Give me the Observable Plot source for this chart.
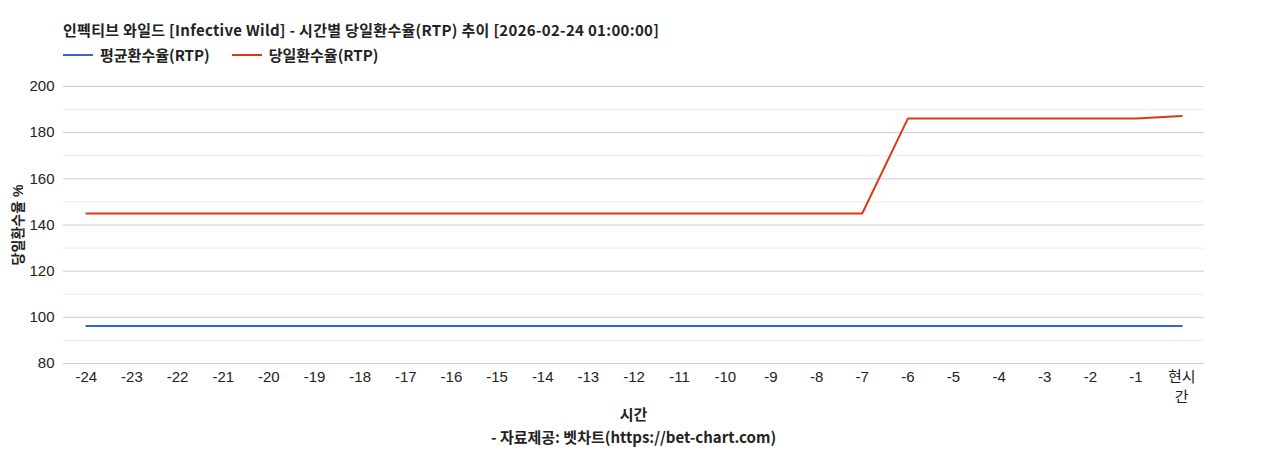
<!DOCTYPE html>
<html>
<head>
<meta charset="utf-8">
<script src="https://cdn.jsdelivr.net/npm/d3@7"></script>
<script src="https://cdn.jsdelivr.net/npm/@observablehq/plot@0.6"></script>
<style>
  body { margin: 0; background: #fff; font-family: "Liberation Sans", Arial, "Noto Sans CJK KR", sans-serif; }
  #wrap { position: relative; width: 1268px; height: 450px; }
  .hdr { font-family: "Noto Sans CJK KR", "Noto Sans", sans-serif; font-weight: bold; font-size: 15px; color: #222; white-space: nowrap; }
  .title { position: absolute; left: 63px; top: 19px; letter-spacing: 0.3px; }
  .legend { position: absolute; left: 63px; top: 44px; display: flex; align-items: center; }
  .legend .sw { display: inline-block; width: 30px; height: 2px; margin-right: 7px; }
  .legend .item { display: flex; align-items: center; margin-right: 22px; }
  #chart { position: absolute; left: 0; top: 70px; }
  .xlabel { position: absolute; left: 63px; width: 1141px; top: 403px; text-align: center; }
  .caption { position: absolute; left: 63px; width: 1141px; top: 426px; text-align: center; }
</style>
</head>
<body>
<div id="wrap">
  <div class="title hdr">인펙티브 와일드 [Infective Wild] - 시간별 당일환수율(RTP) 추이 [2026-02-24 01:00:00]</div>
  <div class="legend hdr" id="legend"></div>
  <div id="chart"></div>
  <div class="xlabel hdr">시간</div>
  <div class="caption hdr">- 자료제공: 벳차트(https://bet-chart.com)</div>
</div>
<script>
const hours = ["-24","-23","-22","-21","-20","-19","-18","-17","-16","-15","-14","-13","-12","-11","-10","-9","-8","-7","-6","-5","-4","-3","-2","-1","현시간"];
const avgRTP = [96.2,96.2,96.2,96.2,96.2,96.2,96.2,96.2,96.2,96.2,96.2,96.2,96.2,96.2,96.2,96.2,96.2,96.2,96.2,96.2,96.2,96.2,96.2,96.2,96.2];
const dailyRTP = [145,145,145,145,145,145,145,145,145,145,145,145,145,145,145,145,145,145,186.1,186.1,186.1,186.1,186.1,186.1,187.2];
const seriesNames = ["평균환수율(RTP)", "당일환수율(RTP)"];
const seriesColors = ["#3366cc", "#dc3912"];
const yMajor = [80,100,120,140,160,180,200];
const yMinor = [90,110,130,150,170,190];

const legend = document.getElementById("legend");
seriesNames.forEach((n, i) => {
  const it = document.createElement("span");
  it.className = "item";
  it.innerHTML = `<span class="sw" style="background:${seriesColors[i]}"></span>${n}`;
  legend.appendChild(it);
});

const rows = [];
hours.forEach((h, i) => {
  rows.push({h, v: avgRTP[i], s: seriesNames[0]});
  rows.push({h, v: dailyRTP[i], s: seriesNames[1]});
});

const chart = Plot.plot({
  width: 1268,
  height: 335,
  marginLeft: 63,
  marginRight: 64,
  marginTop: 16,
  marginBottom: 42,
  style: { fontSize: "15px", fontFamily: "'Liberation Sans', Arial, 'Noto Sans CJK KR', sans-serif", color: "#222", background: "transparent" },
  x: { type: "point", domain: hours, padding: 0.5, round: false },
  y: { domain: [80, 200] },
  color: { domain: seriesNames, range: seriesColors },
  marks: [
    Plot.ruleY(yMinor, { stroke: "#ebebeb", strokeWidth: 1 }),
    Plot.ruleY(yMajor, { stroke: "#cccccc", strokeWidth: 1 }),
    Plot.axisY({ ticks: yMajor, tickSize: 0, tickPadding: 9, fontSize: 15, label: "당일환수율 %", labelAnchor: "center", labelArrow: "none", labelOffset: 50 }),
    Plot.axisX({ tickSize: 0, tickPadding: 5, fontSize: 15, label: null, tickFormat: d => d === "현시간" ? "현시\n간" : d, lineHeight: 1.3 }),
    Plot.line(rows, { x: "h", y: "v", z: "s", stroke: "s", strokeWidth: 2 })
  ]
});
chart.querySelectorAll("g[aria-label='y-axis label']").forEach(e => { e.setAttribute("font-weight", "bold"); e.setAttribute("font-size", "14"); });
document.getElementById("chart").appendChild(chart);
</script>
</body>
</html>
